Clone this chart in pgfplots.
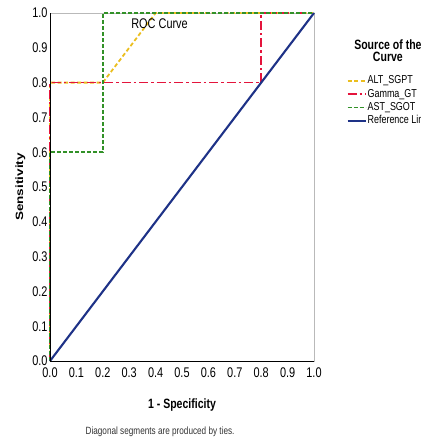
\documentclass[border=0pt]{standalone}
\usepackage{graphicx}
\usepackage{pgfplots}
\pgfplotsset{compat=1.18}
\usepackage{fontspec}
\setmainfont{Liberation Sans}[FakeStretch=0.78]
\newfontfamily\plainsans{Liberation Sans}
\definecolor{cyel}{RGB}{235,190,30}
\definecolor{cred}{RGB}{228,20,60}
\definecolor{cgrn}{RGB}{50,145,40}
\definecolor{cnavy}{RGB}{30,50,135}
\begin{document}
\begin{tikzpicture}
\useasboundingbox (-50pt,-79pt) rectangle (371pt,361pt);
\begin{axis}[
  at={(0,0)}, anchor=south west,
  scale only axis, width=264pt, height=348pt,
  xmin=0, xmax=1, ymin=0, ymax=1,
  xtick={0,0.1,...,1.0}, ytick={0,0.1,...,1.0},
  /pgf/number format/fixed,
  /pgf/number format/fixed zerofill,
  /pgf/number format/precision=1,
  /pgf/number format/assume math mode=true,
  ticklabel style={font=\fontsize{14}{16}\selectfont},
  yticklabel style={xshift=1pt},
  xticklabel style={yshift=-3.5pt},
  major tick length=0pt,
  axis line style={draw=gray!55, line width=0.9pt},
  xlabel={\textbf{1 - Specificity}},
  ylabel={\scalebox{1}[0.78]{\plainsans\bfseries Sensitivity}},
  label style={font=\fontsize{13.5}{15}\selectfont},
  xlabel style={yshift=-14pt},
  ylabel style={yshift=0pt},
  legend style={at={(1.123,0.824)}, anchor=north west, draw=none, fill=none,
    font=\fontsize{11.5}{12}\selectfont, row sep=0.7pt, inner sep=0pt,
    nodes={inner sep=0.8pt, text height=8.5pt, text depth=2.5pt}},
  legend cell align=left,
  legend image code/.code={\draw[#1] (0pt,0pt) -- (18pt,0pt);},
  clip=false,
]
\addplot[cyel, line width=1.8pt, dash pattern=on 4pt off 2.5pt] coordinates {(0,0) (0,0.8) (0.2,0.8) (0.4,1.0) (1,1)};
\addlegendentry{ALT\_SGPT}
\addplot[cred, line width=1.6pt, dash pattern=on 9pt off 3pt on 2.5pt off 3pt] coordinates {(0,0) (0,0.8) (0.8,0.8) (0.8,1.0) (1,1)};
\addlegendentry{Gamma\_GT}
\addplot[cgrn, line width=1.6pt, dash pattern=on 4pt off 2pt] coordinates {(0,0) (0,0.6) (0.2,0.6) (0.2,1.0) (1,1)};
\addlegendentry{AST\_SGOT}
\addplot[cnavy, line width=2.1pt] coordinates {(0,0) (1,1)};
\addlegendentry{Reference Line}
\draw[black, line width=0.9pt] (rel axis cs:0,1) -- (rel axis cs:0,0) -- (rel axis cs:1,0);
\node[font=\fontsize{14}{16}\selectfont] at (rel axis cs:0.415,0.968) {ROC Curve};
\node[font=\bfseries\fontsize{13.5}{12}\selectfont, align=center] at (rel axis cs:1.28,0.891) {Source of the\\Curve};
\node[font=\fontsize{10.5}{12}\selectfont, text=black!80] at (rel axis cs:0.417,-0.204) {Diagonal segments are produced by ties.};
\end{axis}
\end{tikzpicture}
\end{document}
